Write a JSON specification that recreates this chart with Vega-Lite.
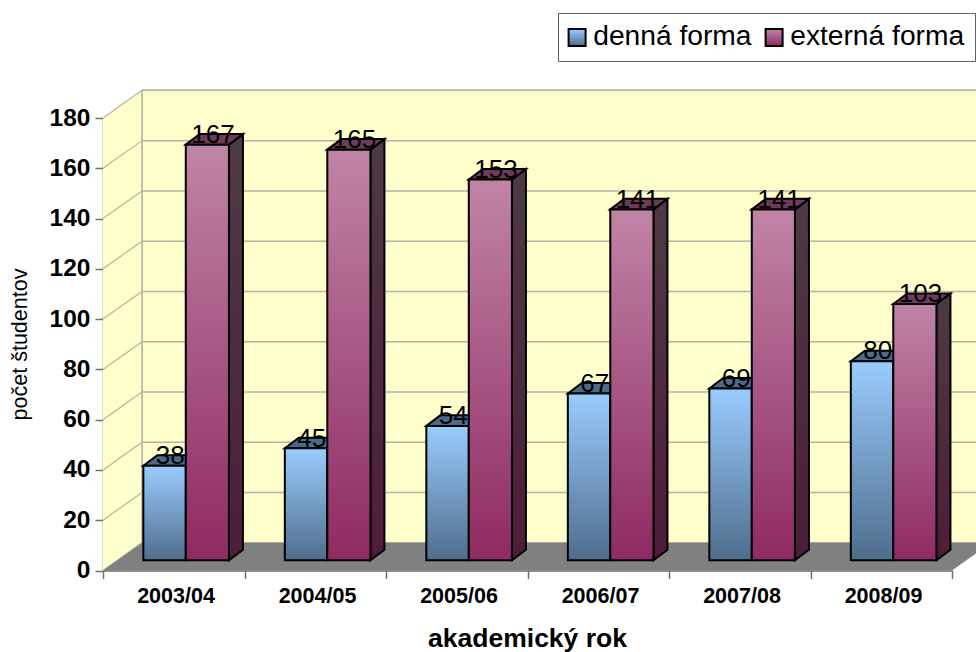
{"$schema":"https://vega.github.io/schema/vega-lite/v6.json","width":849,"height":452.5,"autosize":"none","padding":{"left":103,"top":118,"right":24,"bottom":81.5},"background":"white","params":[{"name":"wx","value":0.2756},{"name":"wy","value":11},{"name":"bx","value":0.099},{"name":"by","value":4.2}],"data":{"values":[{"rok":"2003/04","forma":"denná forma","pocet":38},{"rok":"2003/04","forma":"externá forma","pocet":167},{"rok":"2004/05","forma":"denná forma","pocet":45},{"rok":"2004/05","forma":"externá forma","pocet":165},{"rok":"2005/06","forma":"denná forma","pocet":54},{"rok":"2005/06","forma":"externá forma","pocet":153},{"rok":"2006/07","forma":"denná forma","pocet":67},{"rok":"2006/07","forma":"externá forma","pocet":141},{"rok":"2007/08","forma":"denná forma","pocet":69},{"rok":"2007/08","forma":"externá forma","pocet":141},{"rok":"2008/09","forma":"denná forma","pocet":80},{"rok":"2008/09","forma":"externá forma","pocet":103}]},"transform":[{"calculate":"indexof(['2003/04','2004/05','2005/06','2006/07','2007/08','2008/09'],datum.rok)+(datum.forma=='denná forma'?0.285:0.585)","as":"x0"},{"calculate":"indexof(['2003/04','2004/05','2005/06','2006/07','2007/08','2008/09'],datum.rok)+(datum.forma=='denná forma'?0.585:0.89)","as":"x1"},{"calculate":"4.06+0.99*datum.pocet","as":"t"},{"calculate":"datum.rok+datum.forma","as":"id"}],"encoding":{"x":{"field":"x","type":"quantitative","scale":{"domain":[0,6],"nice":false,"zero":false},"axis":{"values":[0,1,2,3,4,5,6],"labelExpr":"['2003/04','2004/05','2005/06','2006/07','2007/08','2008/09',''][datum.value]","labelOffset":72.5,"labelOverlap":false,"labelBound":false,"labelFlush":false,"grid":false,"title":"akademický rok","titleFont":"Liberation Sans","titleFontSize":26.5,"titleFontWeight":"bold","titleColor":"black","titleX":424,"titleY":76,"titleAlign":"center","titleBaseline":"alphabetic","labelFont":"Liberation Sans","labelFontSize":21.5,"labelFontWeight":"bold","labelColor":"black","labelPadding":7,"domainColor":"#707070","domainWidth":1.5,"tickColor":"#707070","tickWidth":1.5,"tickSize":8}},"y":{"field":"y","type":"quantitative","stack":null,"scale":{"domain":[0,180],"nice":false,"zero":false},"axis":{"values":[0,20,40,60,80,100,120,140,160,180],"grid":false,"title":"počet študentov","titleFont":"Liberation Sans","titleFontSize":21.5,"titleFontWeight":"normal","titleColor":"black","titleX":-72,"titleY":226,"titleAngle":-90,"titleAlign":"center","labelFont":"Liberation Sans","labelFontSize":24.5,"labelFontWeight":"bold","labelColor":"black","labelPadding":5,"labelOverlap":false,"labelBound":false,"labelFlush":false,"domainColor":"#707070","domainWidth":1.5,"tickColor":"#707070","tickWidth":1.5,"tickSize":8}},"tooltip":null},"layer":[{"data":{"values":[{"part":"stena"}]},"transform":[{"calculate":"wx","as":"x"},{"calculate":"6+wx+1","as":"x2"},{"calculate":"wy","as":"y"},{"calculate":"180+wy","as":"y2"}],"mark":{"type":"rect","fill":"#FFFFCC","stroke":"#b4b4a4","strokeWidth":1.5},"encoding":{"x2":{"field":"x2"},"y2":{"field":"y2"}}},{"data":{"values":[{"part":"bok"}]},"transform":[{"calculate":"[0,wx]","as":"x"},{"calculate":"[0,wy]","as":"y"},{"calculate":"[180,180+wy]","as":"y2"},{"flatten":["x","y","y2"]}],"mark":{"type":"area","orient":"vertical","fill":"#FFFFCC","stroke":null},"encoding":{"y2":{"field":"y2"}}},{"data":{"values":[{"tick":0},{"tick":20},{"tick":40},{"tick":60},{"tick":80},{"tick":100},{"tick":120},{"tick":140},{"tick":160},{"tick":180}]},"transform":[{"calculate":"wx","as":"x"},{"calculate":"7+wx","as":"x2"},{"calculate":"datum.tick+wy","as":"y"},{"calculate":"datum.tick+wy","as":"y2"}],"mark":{"type":"rule","stroke":"#b4b4a4","strokeWidth":1.5},"encoding":{"x2":{"field":"x2"},"y2":{"field":"y2"}}},{"data":{"values":[{"tick":0},{"tick":20},{"tick":40},{"tick":60},{"tick":80},{"tick":100},{"tick":120},{"tick":140},{"tick":160},{"tick":180}]},"transform":[{"calculate":"0","as":"x"},{"calculate":"wx","as":"x2"},{"calculate":"datum.tick","as":"y"},{"calculate":"datum.tick+wy","as":"y2"}],"mark":{"type":"rule","stroke":"#b4b4a4","strokeWidth":1.2},"encoding":{"x2":{"field":"x2"},"y2":{"field":"y2"}}},{"data":{"values":[{"part":"hrana"}]},"transform":[{"calculate":"wx","as":"x"},{"calculate":"wy","as":"y"},{"calculate":"180+wy","as":"y2"}],"mark":{"type":"rule","stroke":"#b4b4a4","strokeWidth":1.5},"encoding":{"y2":{"field":"y2"}}},{"data":{"values":[{"part":"podlaha"}]},"transform":[{"calculate":"[0,wx,6,6+wx]","as":"x"},{"calculate":"[0,wy,wy,wy]","as":"y"},{"calculate":"[0,0,0,wy]","as":"y2"},{"flatten":["x","y","y2"]}],"mark":{"type":"area","orient":"vertical","fill":"#808080","stroke":null},"encoding":{"y2":{"field":"y2"}}},{"transform":[{"filter":"datum.forma=='denná forma'"},{"calculate":"[datum.x0,datum.x0+bx,datum.x1,datum.x1+bx]","as":"x"},{"calculate":"[datum.t,datum.t+by,datum.t+by,datum.t+by]","as":"y"},{"calculate":"[datum.t,datum.t,datum.t,datum.t+by]","as":"y2"},{"flatten":["x","y","y2"]}],"mark":{"type":"area","orient":"vertical","fill":"#4a6b8c","stroke":"black","strokeWidth":2},"encoding":{"y2":{"field":"y2"},"detail":{"field":"id"}}},{"transform":[{"filter":"datum.forma=='externá forma'"},{"calculate":"[datum.x1,datum.x1+bx]","as":"x"},{"calculate":"[4.06,4.06+by]","as":"y"},{"calculate":"[datum.t,datum.t+by]","as":"y2"},{"flatten":["x","y","y2"]}],"mark":{"type":"area","orient":"vertical","stroke":"black","strokeWidth":2,"fill":{"gradient":"linear","x1":0,"y1":0,"x2":0,"y2":1,"stops":[{"offset":0,"color":"#4d3a44"},{"offset":1,"color":"#4e1c3a"}]}},"encoding":{"y2":{"field":"y2"},"detail":{"field":"id"}}},{"transform":[{"filter":"datum.forma=='externá forma'"},{"calculate":"[datum.x0,datum.x0+bx,datum.x1,datum.x1+bx]","as":"x"},{"calculate":"[datum.t,datum.t+by,datum.t+by,datum.t+by]","as":"y"},{"calculate":"[datum.t,datum.t,datum.t,datum.t+by]","as":"y2"},{"flatten":["x","y","y2"]}],"mark":{"type":"area","orient":"vertical","fill":"#6f3a5c","stroke":"black","strokeWidth":2},"encoding":{"y2":{"field":"y2"},"detail":{"field":"id"}}},{"transform":[{"calculate":"datum.x0","as":"x"},{"calculate":"datum.x1","as":"x2"},{"calculate":"4.06","as":"y"},{"calculate":"datum.t","as":"y2"}],"mark":{"type":"rect","stroke":"black","strokeWidth":2},"encoding":{"x2":{"field":"x2"},"y2":{"field":"y2"},"fill":{"field":"forma","type":"nominal","scale":{"domain":["denná forma","externá forma"],"range":[{"expr":"{gradient:'linear',x1:0,y1:0,x2:0,y2:1,stops:[{offset:0,color:'#9accff'},{offset:1,color:'#4f6d8c'}]}"},{"expr":"{gradient:'linear',x1:0,y1:0,x2:0,y2:1,stops:[{offset:0,color:'#c084a6'},{offset:1,color:'#8f2a62'}]}"}]},"legend":{"title":null,"orient":"none","legendX":455,"legendY":-105,"direction":"horizontal","columns":2,"strokeColor":"#606060","fillColor":"white","padding":10,"symbolType":"square","symbolSize":289,"symbolStrokeColor":"black","symbolStrokeWidth":2,"symbolOffset":-5,"labelFont":"Liberation Sans","labelFontSize":28.2,"labelLimit":400,"labelColor":"black","labelOffset":2,"columnPadding":9,"rowPadding":0}}}},{"transform":[{"calculate":"(datum.x0+datum.x1)/2+0.04","as":"x"},{"calculate":"datum.t+0.7","as":"y"}],"mark":{"type":"text","font":"Liberation Sans","fontSize":26,"color":"black","align":"center","baseline":"alphabetic"},"encoding":{"text":{"field":"pocet","type":"quantitative"}}}]}
